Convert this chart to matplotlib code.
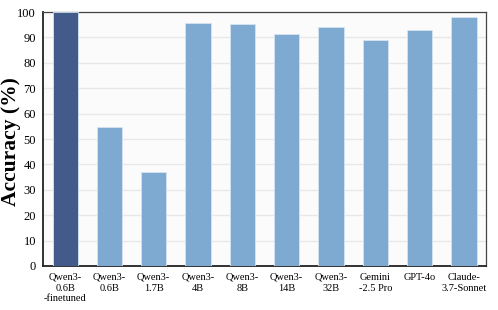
import numpy as np
import matplotlib
matplotlib.use("Agg")
import matplotlib.pyplot as plt

models = [
    "Qwen3-\n0.6B\n-finetuned",
    "Qwen3-\n0.6B",
    "Qwen3-\n1.7B",
    "Qwen3-\n4B",
    "Qwen3-\n8B",
    "Qwen3-\n14B",
    "Qwen3-\n32B",
    "Gemini\n-2.5 Pro",
    "GPT-4o",
    "Claude-\n3.7-Sonnet",
]
accuracy = [100.0, 54.7, 37.0, 95.7, 95.4, 91.5, 94.1, 89.2, 92.8, 98.0]
yticks = [0, 10, 20, 30, 40, 50, 60, 70, 80, 90, 100]

plt.rcParams["font.family"] = ["Liberation Serif", "DejaVu Serif"]

fig = plt.figure(figsize=(4.98, 3.10), dpi=100)
ax = fig.add_axes([0.0863, 0.142, 0.8897, 0.819])
ax.set_facecolor("#fbfbfb")

colors = ["#425b8a"] + ["#7ea9d1"] * (len(models) - 1)
x = np.arange(len(models))
ax.bar(x, accuracy, width=0.57, color=colors, edgecolor="#d6e4f2",
       linewidth=0.6, zorder=3)

ax.set_xlim(-0.5, len(models) - 0.5)
ax.set_ylim(0, 100)
ax.set_yticks(yticks)
ax.set_xticks(x)
ax.set_xticklabels(models, fontsize=7.5, linespacing=1.25)
ax.tick_params(axis="y", labelsize=9, length=0, pad=5)
ax.tick_params(axis="x", length=0, pad=5)
ax.yaxis.grid(True, color="#e8e8e8", linewidth=1.0, zorder=0)

ax.set_ylabel("Accuracy (%)", fontsize=15.5, fontweight="bold")
ax.yaxis.set_label_coords(-0.05, 0.49)

for side in ["top", "right"]:
    ax.spines[side].set_color("#444444")
    ax.spines[side].set_linewidth(0.9)
for side in ["left", "bottom"]:
    ax.spines[side].set_color("#222222")
    ax.spines[side].set_linewidth(1.3)

fig.savefig("out.png", dpi=100)
